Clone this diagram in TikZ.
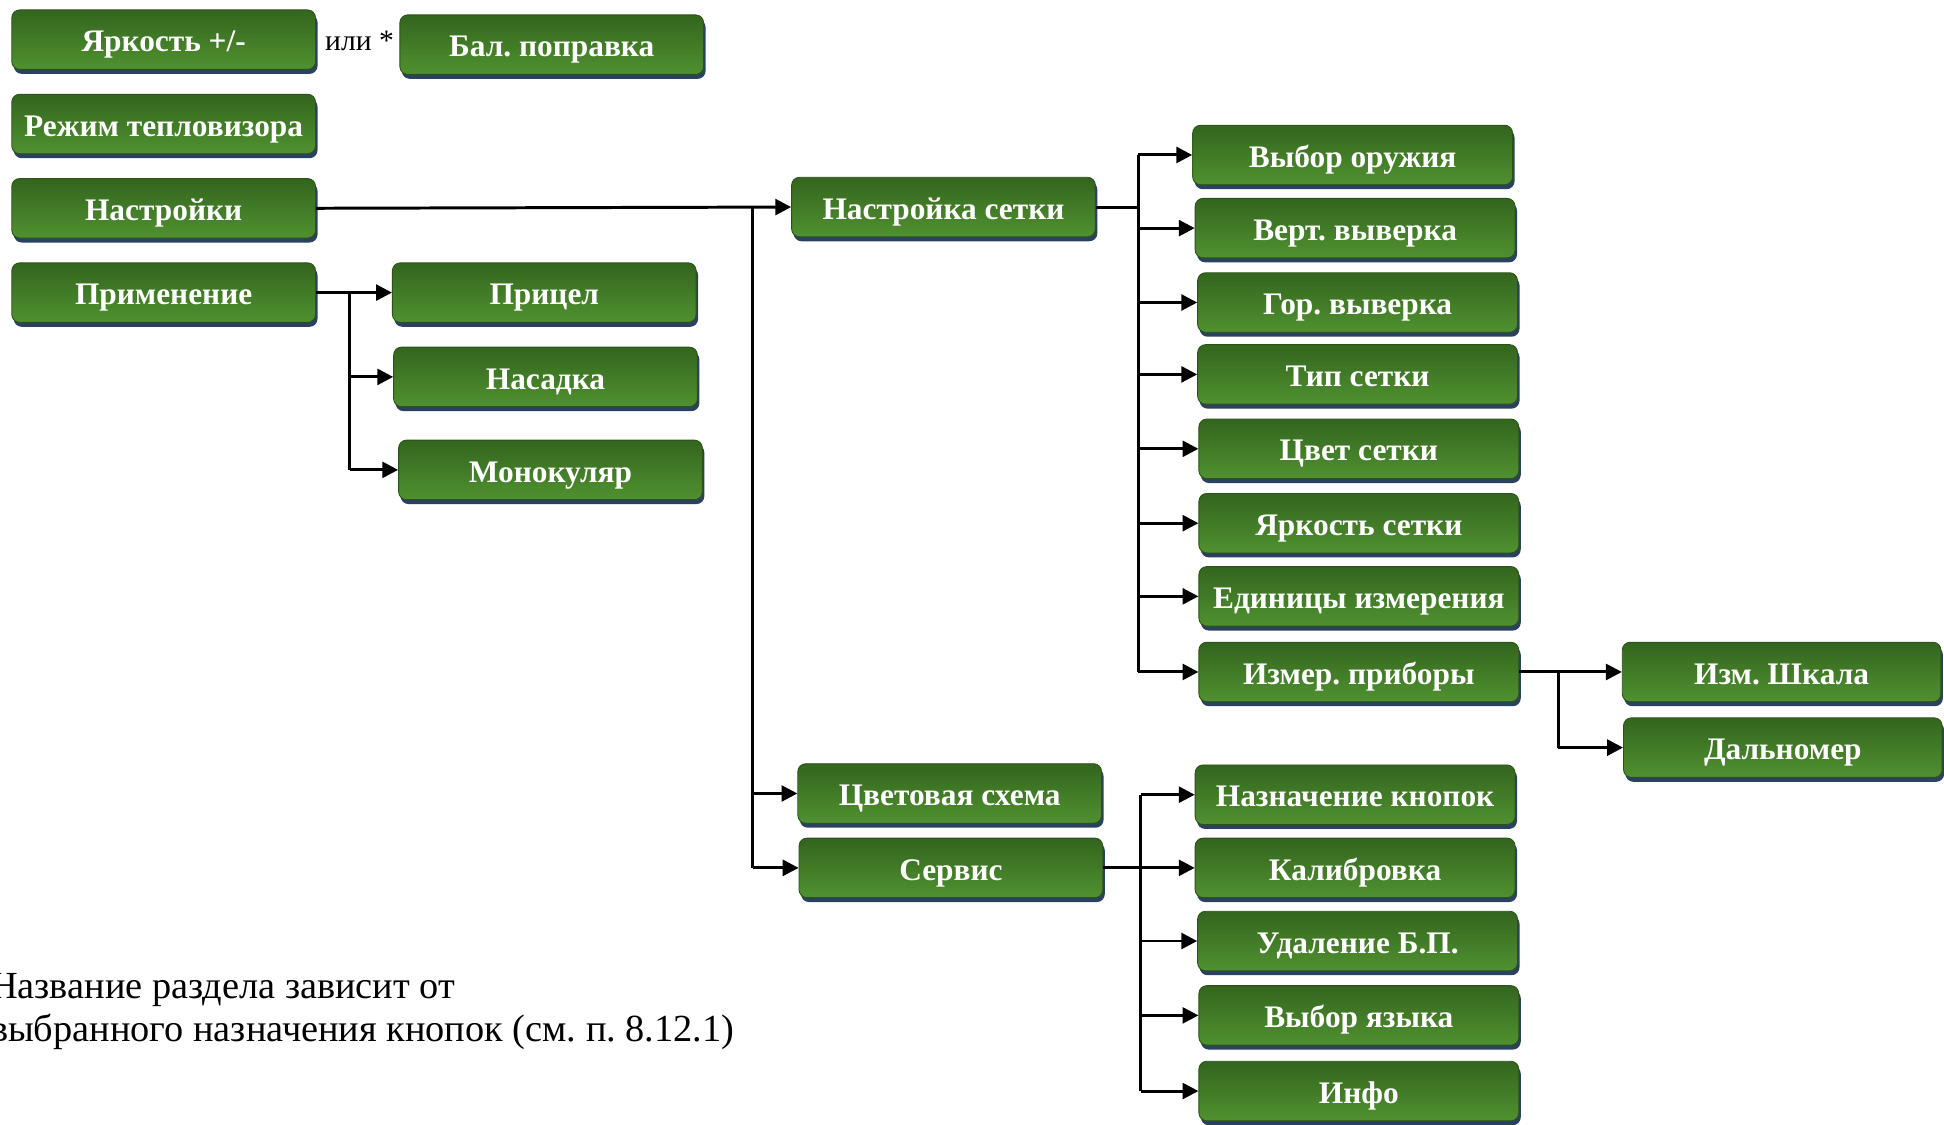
\documentclass[tikz,border=0pt]{standalone}
\usepackage{fontspec}
\setmainfont{Liberation Serif}
\usetikzlibrary{arrows.meta,shadows,calc}
\definecolor{gtop}{HTML}{33651E}
\definecolor{gbot}{HTML}{509130}
\definecolor{gedge}{HTML}{2C5219}
\definecolor{shad}{HTML}{2A4260}
\frenchspacing
\begin{document}
\begin{tikzpicture}[x=0.25mm,y=-0.25mm,
 box/.style={rounded corners=1.6mm, minimum height=12mm, minimum width=#1,
   top color=gtop, bottom color=gbot, draw=gedge, line width=0.5pt,
   general shadow={fill=shad, shadow xshift=0.4mm, shadow yshift=-0.9mm},
   text=white, font=\fontsize{18}{20}\selectfont\bfseries, inner sep=0pt,
   text height=5.2mm, text depth=0.3mm},
 box/.default=61.25mm,
 wbox/.style={box=64.5mm},
 conn/.style={line width=0.6mm},
 arr/.style={conn, -{Triangle[length=3.2mm,width=3.2mm]}},
 note/.style={anchor=base west, font=\fontsize{22}{26}\selectfont}]
\useasboundingbox (0,0) rectangle (1568,907);

% left column
\node[box] (bright) at (132,32) {Яркость +/-};
\node[font=\fontsize{17}{20}\selectfont] (ili) at (290,33) {или *};
\node[box] (bal) at (445,36) {Бал. поправка};
\node[box] (rezhim) at (132,100) {Режим тепловизора};
\node[box] (nastr) at (132,168) {Настройки};
\node[box] (prim) at (132,236) {Применение};

% Применение children
\node[box] (pricel) at (439,236) {Прицел};
\node[box] (nasadka) at (440,304) {Насадка};
\node[box] (mono) at (444,379) {Монокуляр};

% second level
\node[box] (setka) at (761,167) {Настройка сетки};
\node[box] (cvsh) at (766,640) {Цветовая схема};
\node[box] (servis) at (767,700) {Сервис};

% Настройка сетки children
\node[wbox] (vybor) at (1091,125) {Выбор оружия};
\node[wbox] (vert) at (1093,184) {Верт. выверка};
\node[wbox] (gor) at (1095,244) {Гор. выверка};
\node[wbox] (tip) at (1095,302) {Тип сетки};
\node[wbox] (cvet) at (1096,362) {Цвет сетки};
\node[wbox] (yarks) at (1096,422) {Яркость сетки};
\node[wbox] (edin) at (1096,481) {Единицы измерения};
\node[wbox] (izmer) at (1096,542) {Измер. приборы};

% Измер. приборы children
\node[box=64.25mm] (shkala) at (1437,542) {Изм. Шкала};
\node[box=64.25mm] (dalno) at (1438,603) {Дальномер};

% Сервис children
\node[wbox] (nazn) at (1093,641) {Назначение кнопок};
\node[wbox] (kalib) at (1093,700) {Калибровка};
\node[wbox] (udal) at (1095,759) {Удаление Б.П.};
\node[wbox] (yazyk) at (1096,819) {Выбор языка};
\node[wbox] (info) at (1096,880) {Инфо};

% note
\node[note] (note1) at (-13,805) {Название раздела зависит от};
\node[note] (note2) at (-13,840) {выбранного назначения кнопок (см. п. 8.12.1)};

% connectors: Применение
\coordinate (jp) at (282,236);
\draw[arr] (prim.east) -- (pricel.west);
\draw[conn] (jp) -- (jp |- mono.west);
\draw[arr] (jp |- nasadka.west) -- (nasadka.west);
\draw[arr] (jp |- mono.west) -- (mono.west);

% Настройки
\coordinate (jn) at (607,167);
\draw[arr] (nastr.east) -- (setka.west);
\draw[conn] (jn) -- (jn |- servis.west);
\draw[arr] (jn |- cvsh.west) -- (cvsh.west);
\draw[arr] (jn |- servis.west) -- (servis.west);

% Настройка сетки
\coordinate (js) at (918,167);
\draw[conn] (setka.east) -- (js);
\draw[conn] (js |- vybor.west) -- (js |- izmer.west);
\foreach \n in {vybor,vert,gor,tip,cvet,yarks,edin,izmer}
  \draw[arr] (js |- \n.west) -- (\n.west);

% Измер. приборы
\coordinate (ji) at (1257,542);
\draw[arr] (izmer.east) -- (shkala.west);
\draw[conn] (ji) -- (ji |- dalno.west);
\draw[arr] (ji |- dalno.west) -- (dalno.west);

% Сервис
\coordinate (jv) at (920,700);
\draw[arr] (servis.east) -- (kalib.west);
\draw[conn] (jv |- nazn.west) -- (jv |- info.west);
\foreach \n in {nazn,udal,yazyk,info}
  \draw[arr] (jv |- \n.west) -- (\n.west);
\end{tikzpicture}
\end{document}
